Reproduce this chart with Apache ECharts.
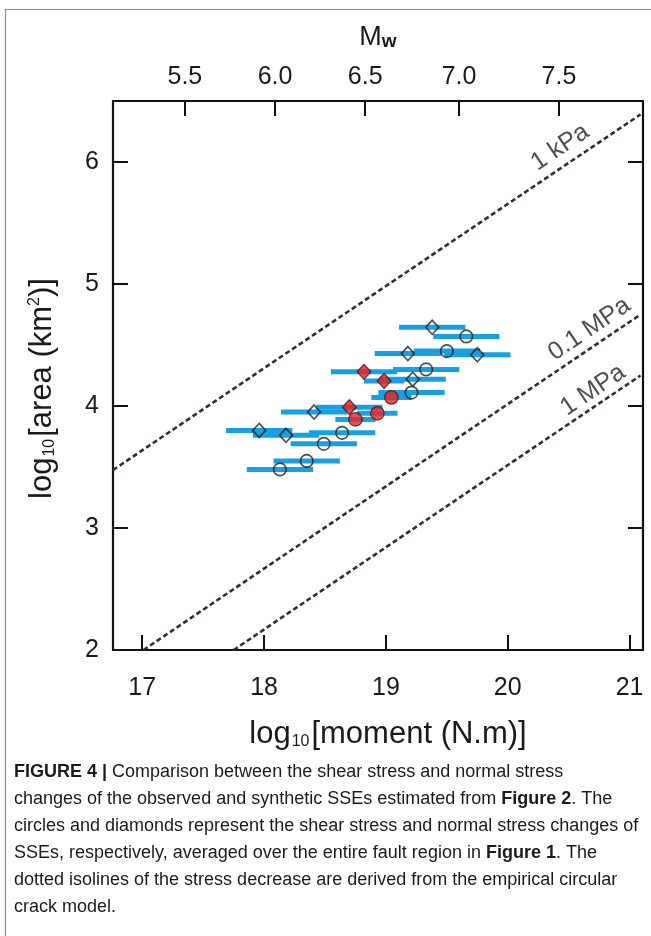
<!DOCTYPE html>
<html><head><meta charset="utf-8">
<script src="https://cdn.jsdelivr.net/npm/echarts@6/dist/echarts.min.js"></script>
<style>html,body{margin:0;padding:0;background:#fff;}#c{width:651px;height:936px;}</style>
</head><body><div id="c"></div>
<script>
// ---- axis ticks ----
const xTicks = [17, 18, 19, 20, 21];
const yTicks = [2, 3, 4, 5, 6];
const mwTicks = [5.5, 6.0, 6.5, 7.0, 7.5];
const mwTickMoment = [17.35, 18.09, 18.83, 19.60, 20.42]; // where each Mw tick sits on the moment axis

// ---- open circles (shear stress) ----
const circleMoment = [19.66, 19.50, 19.33, 19.21, 18.64, 18.49, 18.35, 18.13];
const circleArea   = [4.57, 4.45, 4.30, 4.11, 3.78, 3.69, 3.55, 3.48];
const circleErr    = [0.272, 0.272, 0.272, 0.272, 0.272, 0.272, 0.272, 0.272];
// ---- open diamonds (normal stress) ----
const diamondMoment = [19.38, 19.18, 19.75, 19.22, 18.41, 17.96, 18.18];
const diamondArea   = [4.645, 4.43, 4.42, 4.22, 3.95, 3.80, 3.76];
const diamondErr    = [0.272, 0.272, 0.272, 0.272, 0.272, 0.272, 0.272];
// ---- red diamonds ----
const redDiamondMoment = [18.82, 18.985, 18.70];
const redDiamondArea   = [4.28, 4.205, 3.99];
const redDiamondErr    = [0.272, 0.165, 0.272];
// ---- red circles ----
const redCircleMoment = [19.045, 18.93, 18.75];
const redCircleArea   = [4.07, 3.94, 3.89];
const redCircleErr    = [0.165, 0.165, 0.165];

// ---- stress-drop isolines (endpoints) ----
const iso1kPa  = [[16.76, 3.475], [21.09, 6.39]];
const iso01MPa = [[17.01, 2.0],   [21.09, 4.75]];
const iso1MPa  = [[17.75, 2.0],   [21.09, 4.25]];
const isoNames = ['1 kPa', '0.1 MPa', '1 MPa'];

const FONT = 'Liberation Sans, Arial, sans-serif';
const INK = '#1a1a1a';

function zip(xs, ys) { return xs.map((x, i) => [x, ys[i]]); }
function zip3(xs, ys, es) { return xs.map((x, i) => [x, ys[i], es[i]]); }

const errData = [].concat(
  zip3(diamondMoment, diamondArea, diamondErr),
  zip3(circleMoment, circleArea, circleErr),
  zip3(redDiamondMoment, redDiamondArea, redDiamondErr),
  zip3(redCircleMoment, redCircleArea, redCircleErr)
);

const chart = echarts.init(document.getElementById('c'), null, {renderer: 'canvas'});

const axisLineStyle = {show: true, lineStyle: {color: '#111', width: 2.2}};
const tickStyle = {show: true, inside: true, length: 15, lineStyle: {color: '#111', width: 2}};

const isoLine = (d) => ({
  type: 'line', data: d, showSymbol: false, symbol: 'none', silent: true, z: 3,
  lineStyle: {color: '#352d2d', width: 2.6, type: [5, 3]}
});

const capRich = {
  b: {fontWeight: 'bold', fontSize: 18, fontFamily: FONT, fill: INK},
  n: {fontSize: 18, fontFamily: FONT, fill: INK}
};
const capLines = [
  '{b|FIGURE 4 |}{n| Comparison between the shear stress and normal stress}',
  '{n|changes of the observed and synthetic SSEs estimated from }{b|Figure 2}{n|. The}',
  '{n|circles and diamonds represent the shear stress and normal stress changes of}',
  '{n|SSEs, respectively, averaged over the entire fault region in }{b|Figure 1}{n|. The}',
  '{n|dotted isolines of the stress decrease are derived from the empirical circular}',
  '{n|crack model.}'
];

const option = {
  animation: false,
  backgroundColor: '#fff',
  grid: {left: 113, right: 8, top: 101, bottom: 286},
  xAxis: [{
    type: 'value', min: 16.76, max: 21.11, position: 'bottom',
    axisLine: axisLineStyle, splitLine: {show: false},
    axisTick: Object.assign({}, tickStyle, {customValues: xTicks}),
    axisLabel: {customValues: xTicks, fontSize: 25, color: INK, fontFamily: FONT, margin: 26},
    name: '{t|log}{s|10}{t|[moment (N.m)]}', nameLocation: 'middle', nameGap: 69,
    nameTextStyle: {padding: [0, 0, 0, 20], rich: {
      t: {fontSize: 31, fontFamily: FONT, color: INK},
      s: {fontSize: 16, fontFamily: FONT, color: INK, verticalAlign: 'bottom', padding: [0, 2, 0, 1]}
    }}
  }, {
    type: 'value', min: 16.76, max: 21.11, position: 'top',
    axisLine: axisLineStyle, splitLine: {show: false},
    axisTick: Object.assign({}, tickStyle, {customValues: mwTickMoment}),
    axisLabel: {customValues: mwTickMoment, fontSize: 25, color: INK, fontFamily: FONT, margin: 11,
      formatter: (v) => { const i = mwTickMoment.indexOf(v); return i >= 0 ? mwTicks[i].toFixed(1) : ''; }},
    name: '{m|M}{w|w}', nameLocation: 'middle', nameGap: 50,
    nameTextStyle: {rich: {
      m: {fontSize: 27, fontFamily: FONT, color: INK},
      w: {fontSize: 19, fontFamily: FONT, fontWeight: 'bold', color: INK, verticalAlign: 'bottom'}
    }}
  }],
  yAxis: [{
    type: 'value', min: 2, max: 6.5, position: 'left',
    axisLine: axisLineStyle, splitLine: {show: false},
    axisTick: Object.assign({}, tickStyle, {customValues: yTicks}),
    axisLabel: {customValues: yTicks, fontSize: 25, color: INK, fontFamily: FONT, margin: 14},
    name: '{t|log}{s|10}{t|[area (km}{p|2}{t|)]}', nameLocation: 'middle', nameGap: 55,
    nameTextStyle: {padding: [0, 26, 0, 0], rich: {
      t: {fontSize: 31, fontFamily: FONT, color: INK},
      s: {fontSize: 16, fontFamily: FONT, color: INK, verticalAlign: 'bottom', padding: [0, 2, 0, 1]},
      p: {fontSize: 16, fontFamily: FONT, color: INK, verticalAlign: 'top'}
    }}
  }, {
    type: 'value', min: 2, max: 6.5, position: 'right',
    axisLine: axisLineStyle, splitLine: {show: false},
    axisTick: Object.assign({}, tickStyle, {customValues: yTicks}),
    axisLabel: {show: false}
  }],
  series: [
    isoLine(iso1kPa), isoLine(iso01MPa), isoLine(iso1MPa),
    {
      type: 'scatter', silent: true, symbolSize: 0, z: 4,
      data: [
        {value: [20.43, 6.12], name: isoNames[0]},
        {value: [20.67, 4.63], name: isoNames[1]},
        {value: [20.70, 4.13], name: isoNames[2]}
      ],
      label: {show: true, position: 'inside', formatter: '{b}', rotate: 34,
        fontSize: 25, fontFamily: FONT, color: '#222'}
    },
    {
      type: 'custom', silent: true, z: 5,
      data: errData,
      encode: {x: 0, y: 1},
      renderItem: function (params, api) {
        const x = api.value(0), y = api.value(1), e = api.value(2);
        const p1 = api.coord([x - e, y]);
        const p2 = api.coord([x + e, y]);
        const h = 5;
        return {type: 'rect', shape: {x: p1[0], y: p1[1] - h / 2, width: p2[0] - p1[0], height: h},
          style: {fill: '#17a0e2'}};
      }
    },
    {
      type: 'scatter', name: 'shear', z: 10, symbol: 'circle', symbolSize: 12.5,
      data: zip(circleMoment, circleArea),
      itemStyle: {color: 'rgba(0,0,0,0)', borderColor: '#222', borderWidth: 1.7}
    },
    {
      type: 'scatter', name: 'normal', z: 10, symbol: 'diamond', symbolSize: [13, 14],
      data: zip(diamondMoment, diamondArea),
      itemStyle: {color: 'rgba(0,0,0,0)', borderColor: '#222', borderWidth: 1.7}
    },
    {
      type: 'scatter', name: 'normal-red', z: 11, symbol: 'diamond', symbolSize: [14, 15],
      data: zip(redDiamondMoment, redDiamondArea),
      itemStyle: {color: '#ec1c1c', borderColor: '#2a1a1a', borderWidth: 1.2}
    },
    {
      type: 'scatter', name: 'shear-red', z: 11, symbol: 'circle', symbolSize: 13.5,
      data: zip(redCircleMoment, redCircleArea),
      itemStyle: {color: '#e82424', borderColor: '#2a1a1a', borderWidth: 1.2}
    }
  ],
  graphic: [
    {type: 'rect', silent: true, z: -1, shape: {x: 5.5, y: 9.5, width: 700, height: 1000},
      style: {fill: 'none', stroke: '#8a8a8a', lineWidth: 1.2}},
    {type: 'group', left: 14, top: 763, children: capLines.map((t, i) => ({
      type: 'text', x: 0, y: i * 27, style: {rich: capRich, text: t}
    }))}
  ]
};
chart.setOption(option);
</script>
</body></html>
